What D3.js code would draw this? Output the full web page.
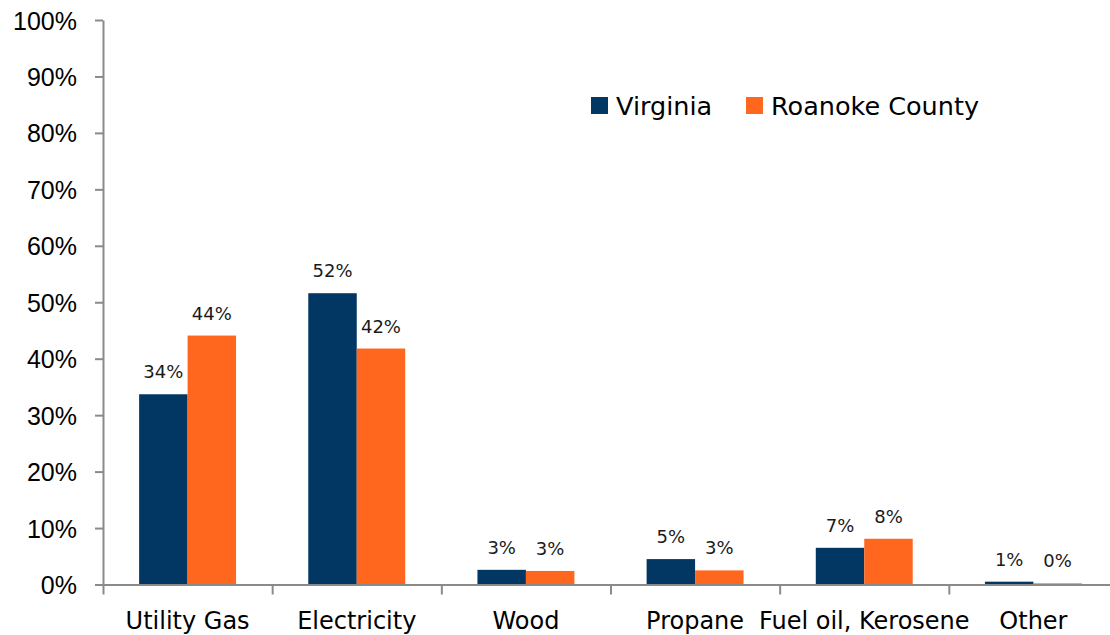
<!DOCTYPE html>
<html>
<head>
<meta charset="utf-8">
<script src="https://cdn.jsdelivr.net/npm/d3@7.9.0/dist/d3.min.js"></script>
<style>
  body { margin: 0; background: #fff; }
  svg { display: block; font-family: "DejaVu Sans", sans-serif; }
  .axis path, .axis line { stroke: #8a8a8a; stroke-width: 2; }
  .axis text { fill: #000; }
</style>
</head>
<body>
<script>
// Data
const categories = ["Utility Gas", "Electricity", "Wood", "Propane", "Fuel oil, Kerosene", "Other"];
const seriesNames = ["Virginia", "Roanoke County"];
const virginia = [0.337, 0.516, 0.026, 0.045, 0.065, 0.005];
const roanoke = [0.441, 0.418, 0.024, 0.025, 0.081, 0.002];
const virginiaLabels = ["34%", "52%", "3%", "5%", "7%", "1%"];
const roanokeLabels = ["44%", "42%", "3%", "3%", "8%", "0%"];
const yTicks = [0, 0.1, 0.2, 0.3, 0.4, 0.5, 0.6, 0.7, 0.8, 0.9, 1.0];
const colors = ["#023764", "#ff671f"];

const width = 1110, height = 635;
const plotLeft = 103, plotRight = 1118, plotTop = 20, plotBottom = 584.5;

const svg = d3.select("body").append("svg").attr("width", width).attr("height", height);

const y = d3.scaleLinear().domain([0, 1]).range([plotBottom, plotTop]);
const x0 = d3.scaleBand().domain(categories).range([plotLeft, plotRight]).paddingInner(0).paddingOuter(0);
const gap = x0.bandwidth() * 0.427;
const x1 = d3.scaleBand().domain(seriesNames).range([gap / 2, x0.bandwidth() - gap / 2]);

// y axis
svg.append("g").attr("class", "axis")
  .attr("transform", `translate(${plotLeft},0)`)
  .call(d3.axisLeft(y).tickValues(yTicks).tickFormat(d3.format(".0%")).tickSize(8).tickSizeOuter(0).tickPadding(18))
  .call(g => g.selectAll("text").style("font-size", "25px").attr("dy", "0.36em"));

// bars
const rows = categories.map((c, i) => ({
  cat: c,
  vals: [
    { s: seriesNames[0], v: virginia[i], label: virginiaLabels[i], color: colors[0] },
    { s: seriesNames[1], v: roanoke[i], label: roanokeLabels[i], color: colors[1] }
  ]
}));

const groups = svg.selectAll("g.grp").data(rows).enter().append("g")
  .attr("class", "grp")
  .attr("transform", d => `translate(${x0(d.cat)},0)`);

groups.selectAll("rect").data(d => d.vals).enter().append("rect")
  .attr("x", d => x1(d.s))
  .attr("width", x1.bandwidth())
  .attr("y", d => y(d.v))
  .attr("height", d => y(0) - y(d.v))
  .attr("fill", d => d.color);

groups.selectAll("text").data(d => d.vals).enter().append("text")
  .attr("x", d => x1(d.s) + x1.bandwidth() / 2)
  .attr("y", d => y(d.v) - 16)
  .attr("text-anchor", "middle")
  .style("font-size", "18px")
  .attr("fill", "#1a1a1a")
  .text(d => d.label);

// x axis with ticks between categories
const xb = d3.scaleLinear().domain([0, categories.length]).range([plotLeft, plotRight]);
svg.append("g").attr("class", "axis")
  .attr("transform", `translate(0,${plotBottom})`)
  .call(d3.axisBottom(xb).tickValues(d3.range(0, categories.length + 1)).tickFormat("").tickSize(10).tickSizeOuter(0));

svg.append("g").selectAll("text").data(categories).enter().append("text")
  .attr("x", d => x0(d) + x0.bandwidth() / 2)
  .attr("y", 629)
  .attr("text-anchor", "middle")
  .style("font-size", "24px")
  .attr("fill", "#000")
  .text(d => d);

// legend
const legendX = [591, 746];
const legend = svg.append("g").selectAll("g").data(seriesNames).enter().append("g")
  .attr("transform", (d, i) => `translate(${legendX[i]},97)`);
legend.append("rect").attr("width", 17).attr("height", 17).attr("fill", (d, i) => colors[i]);
legend.append("text").attr("x", 25).attr("y", 18)
  .style("font-size", "25.5px").attr("fill", "#000").text(d => d);
</script>
</body>
</html>
